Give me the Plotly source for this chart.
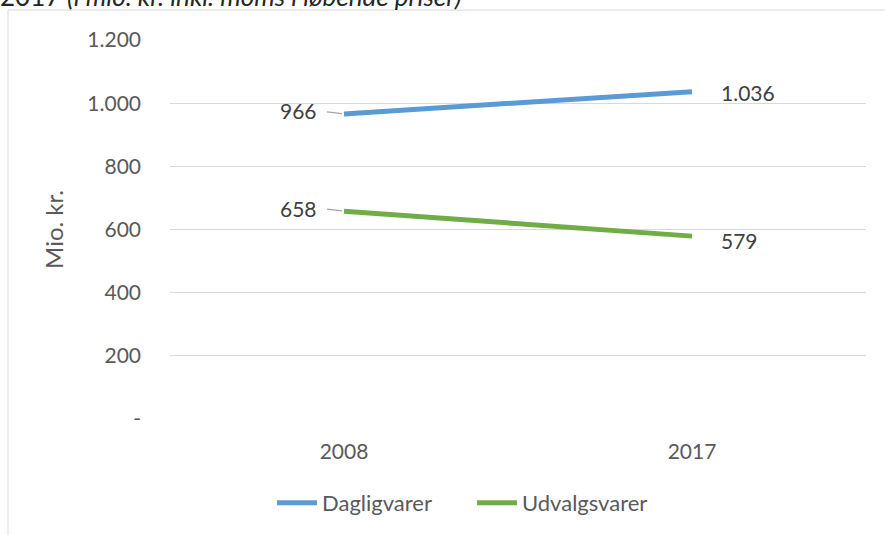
import plotly.graph_objects as go

years = ["2008", "2017"]
dagligvarer = [966, 1036]
udvalgsvarer = [658, 579]
series_names = ["Dagligvarer", "Udvalgsvarer"]
tick_vals = [0, 200, 400, 600, 800, 1000, 1200]
tick_text = ["-", "200", "400", "600", "800", "1.000", "1.200"]
label_text_d = ["966", "1.036"]
label_text_u = ["658", "579"]
title_text = "2017 <i>(i mio. kr. inkl. moms i løbende priser)</i>"

FONT = "Lato, 'Open Sans', sans-serif"
BLUE = "#5B9BD5"
GREEN = "#70AD47"

W, H = 885, 535
ML, MR, MT, MB = 170, 19, 40, 115
PW = W - ML - MR
PH = H - MT - MB

def px_x(px):
    return (px - ML) / PW

def px_y(py):
    return (H - MB - py) / PH

fig = go.Figure()
fig.add_trace(go.Scatter(x=years, y=dagligvarer, mode="lines", name=series_names[0],
                         line=dict(color=BLUE, width=5)))
fig.add_trace(go.Scatter(x=years, y=udvalgsvarer, mode="lines", name=series_names[1],
                         line=dict(color=GREEN, width=5)))

LBL = dict(family=FONT, size=21, color="#404040")
ann = []
# left labels (first category, index 0) with leader lines
for vals, texts in ((dagligvarer, label_text_d), (udvalgsvarer, label_text_u)):
    ann.append(dict(x=0, y=vals[0], text=texts[0], showarrow=True,
                    ax=-25, ay=-3, arrowhead=0, arrowwidth=1.2, arrowcolor="#A6A6A6",
                    standoff=2, startstandoff=8, xanchor="right", font=LBL))
# right labels (second category, index 1)
ann.append(dict(x=1, y=dagligvarer[1], text=label_text_d[1], showarrow=False,
                xshift=56, yshift=-1, font=LBL))
ann.append(dict(x=1, y=udvalgsvarer[1], text=label_text_u[1], showarrow=False,
                xshift=47, yshift=-4, font=LBL))
ann.append(dict(xref="paper", yref="paper", x=px_x(-2), y=px_y(14), xanchor="left",
                yanchor="bottom", text=title_text, showarrow=False,
                font=dict(family=FONT, size=26, color="#262626")))

TICKF = dict(family=FONT, size=21, color="#595959")
fig.update_layout(
    width=W, height=H,
    margin=dict(l=ML, r=MR, t=MT, b=MB),
    paper_bgcolor="white", plot_bgcolor="white",
    font=dict(family=FONT, color="#595959"),
    showlegend=True,
    legend=dict(orientation="h", x=px_x(472), xanchor="center", y=px_y(503), yanchor="middle",
                font=dict(family=FONT, size=22, color="#595959"), itemwidth=40,
                entrywidth=145, entrywidthmode="pixels",
                bgcolor="rgba(0,0,0,0)"),
    xaxis=dict(type="category", range=[-0.5, 1.5], showgrid=False, showline=False,
               zeroline=False, ticks="", tickfont=TICKF, ticklabelstandoff=18),
    yaxis=dict(range=[0, 1200], tickvals=tick_vals, ticktext=tick_text,
               showgrid=True, gridcolor="#D9D9D9", gridwidth=1.3, zeroline=False,
               showline=False, ticks="", ticklabelstandoff=28, tickfont=TICKF,
               title=dict(text="Mio. kr.", standoff=16,
                          font=dict(family=FONT, size=24, color="#595959"))),
    annotations=ann,
    shapes=[dict(type="rect", xref="paper", yref="paper",
                 x0=px_x(8), x1=px_x(900), y0=px_y(560), y1=px_y(10),
                 line=dict(color="#D9D9D9", width=1), fillcolor="rgba(0,0,0,0)",
                 layer="below")],
)

fig.write_html("out.html", config={"displayModeBar": False},
               post_script="document.body.style.margin='0';")
